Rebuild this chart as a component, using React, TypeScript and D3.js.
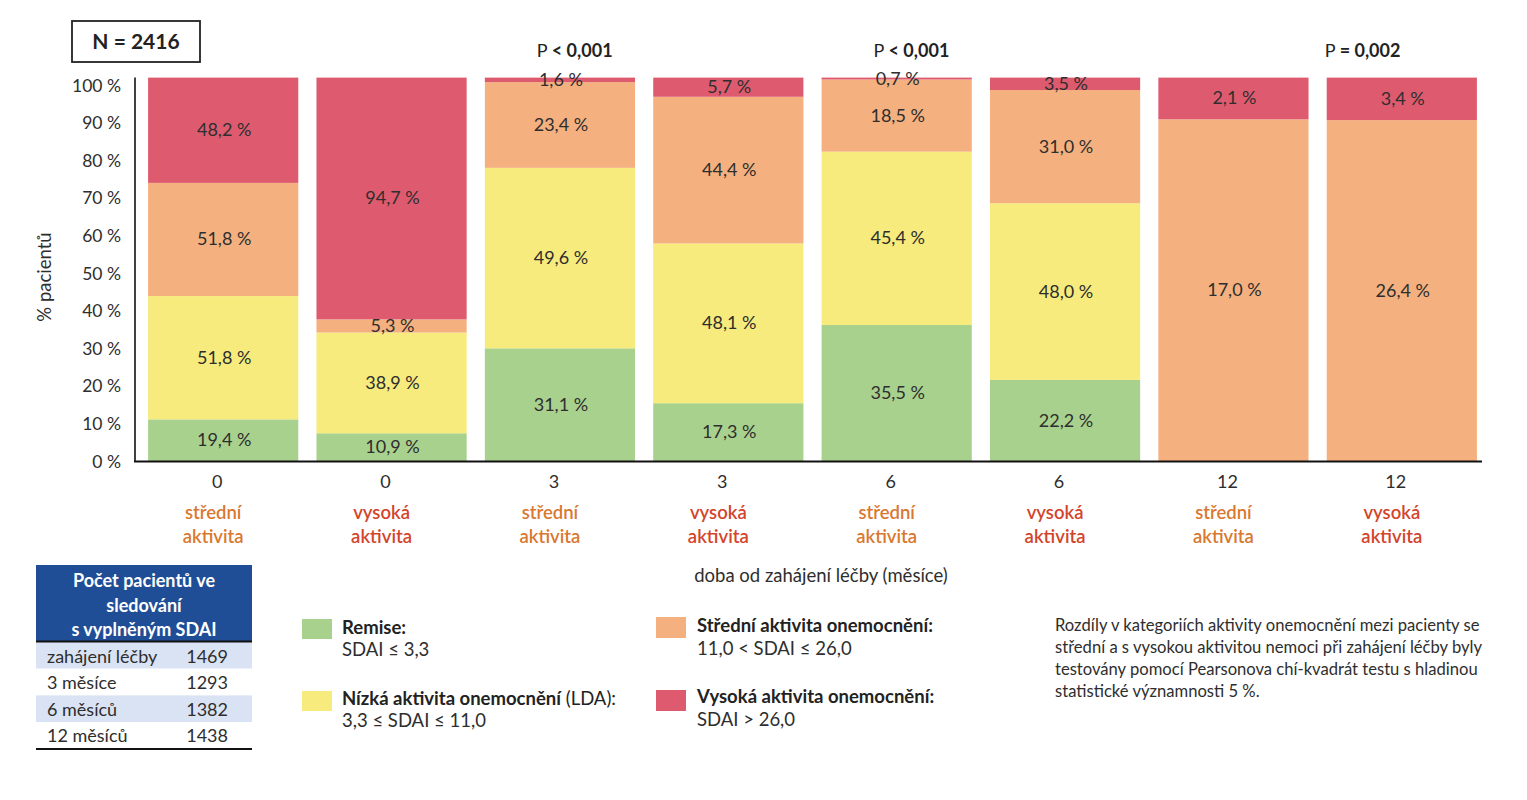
import React from "react";
import * as d3 from "d3";

// ---------- DATA ----------
const months = ["0", "0", "3", "3", "6", "6", "12", "12"];
const groups = ["střední", "vysoká", "střední", "vysoká", "střední", "vysoká", "střední", "vysoká"];
const seriesKeys = ["remise", "nizka", "stredni", "vysoka"];
const seriesNames = ["Remise", "Nízká aktivita onemocnění", "Střední aktivita onemocnění", "Vysoká aktivita onemocnění"];
// segment heights as drawn against the y axis (% pacientů)
const remise = [11.2, 7.5, 30.1, 15.5, 36.3, 21.7, 0, 0];
const nizka = [32.8, 26.8, 48.0, 42.5, 46.1, 47.0, 0, 0];
const stredni = [30.1, 3.5, 22.8, 39.0, 19.2, 30.1, 91.0, 90.8];
const vysoka = [28.0, 64.3, 1.2, 5.1, 0.5, 3.3, 11.1, 11.3];
// printed labels
const remiseLbl = ["19,4 %", "10,9 %", "31,1 %", "17,3 %", "35,5 %", "22,2 %", "", ""];
const nizkaLbl = ["51,8 %", "38,9 %", "49,6 %", "48,1 %", "45,4 %", "48,0 %", "", ""];
const stredniLbl = ["51,8 %", "5,3 %", "23,4 %", "44,4 %", "18,5 %", "31,0 %", "17,0 %", "26,4 %"];
const vysokaLbl = ["48,2 %", "94,7 %", "1,6 %", "5,7 %", "0,7 %", "3,5 %", "2,1 %", "3,4 %"];
const yTicks = [0, 10, 20, 30, 40, 50, 60, 70, 80, 90, 100];
const pSign = ["<", "<", "="];
const pValue = ["0,001", "0,001", "0,002"];
const pBar = [2, 4, 7];
const tableHeader = ["Počet pacientů ve", "sledování", "s vyplněným SDAI"];
const tableRows = ["zahájení léčby", "3 měsíce", "6 měsíců", "12 měsíců"];
const tableCounts = [1469, 1293, 1382, 1438];
const noteLines = [
  "Rozdíly v kategoriích aktivity onemocnění mezi pacienty se",
  "střední a s vysokou aktivitou nemoci při zahájení léčby byly",
  "testovány pomocí Pearsonova chí-kvadrát testu s hladinou",
  "statistické významnosti 5 %.",
];

const COLORS = ["#A9D18E", "#F6EB7C", "#F4B17F", "#DE5B6F"];
const GROUP_COL: Record<string, string> = { "střední": "#D9782F", "vysoká": "#D3442B" };
const FONT = "Lato, 'Open Sans', sans-serif";

export default function App() {
  const rows = months.map((m, i) => ({
    i,
    remise: remise[i],
    nizka: nizka[i],
    stredni: stredni[i],
    vysoka: vysoka[i],
  }));
  const labels = [remiseLbl, nizkaLbl, stredniLbl, vysokaLbl];
  const stacked = d3.stack<any>().keys(seriesKeys)(rows);
  const maxTotal = d3.max(rows, (r) => r.remise + r.nizka + r.stredni + r.vysoka) as number;

  const x = d3
    .scaleBand<number>()
    .domain(d3.range(months.length))
    .range([139, 1486])
    .paddingInner(0.108)
    .paddingOuter(0.054);
  const y = d3.scaleLinear().domain([0, 100]).range([461.5, 85.5]);
  const bw = x.bandwidth();
  const cx = (i: number) => (x(i) as number) + bw / 2;

  const txt = "#2e2e2e";

  return (
    <svg
      width={1527}
      height={800}
      style={{ position: "absolute", left: 0, top: 0, display: "block", background: "#fff" }}
      fontFamily={FONT}
    >
      {/* N box */}
      <rect x={72} y={21} width={128} height={41} fill="none" stroke="#222" strokeWidth={1.8} />
      <text x={136} y={49} textAnchor="middle" fontSize={21} fontWeight={700} fill="#222">
        N = 2416
      </text>

      {/* bars */}
      {stacked.map((s, si) => (
        <g key={si}>
          {s.map((d, i) =>
            d[1] - d[0] > 0 ? (
              <rect
                key={i}
                x={x(i)}
                y={y(d[1])}
                width={bw}
                height={y(d[0]) - y(d[1])}
                fill={COLORS[si]}
              />
            ) : null
          )}
        </g>
      ))}
      {/* bar labels */}
      {stacked.map((s, si) => (
        <g key={"l" + si}>
          {s.map((d, i) =>
            labels[si][i] ? (
              <text
                key={i}
                x={cx(i) + 1}
                y={(y(d[0]) + y(d[1])) / 2 + 6}
                textAnchor="middle"
                fontSize={18}
                fill={txt}
              >
                {labels[si][i]}
              </text>
            ) : null
          )}
        </g>
      ))}

      {/* axes */}
      <line x1={135} x2={135} y1={y(maxTotal)} y2={462} stroke="#111" strokeWidth={1.6} />
      <line x1={134} x2={1482} y1={461.5} y2={461.5} stroke="#111" strokeWidth={2} />
      {yTicks.map((t) => (
        <text key={t} x={121} y={y(t) + 6} textAnchor="end" fontSize={17.5} fill={txt}>
          {t} %
        </text>
      ))}
      <text
        transform={`translate(51,277) rotate(-90)`}
        textAnchor="middle"
        fontSize={18.5}
        fill={txt}
      >
        % pacientů
      </text>

      {/* x tick labels */}
      {months.map((m, i) => (
        <g key={"x" + i}>
          <text x={cx(i) - 6} y={488} textAnchor="middle" fontSize={18} fill={txt}>
            {m}
          </text>
          <text x={cx(i) - 10} y={519} textAnchor="middle" fontSize={18.5} fontWeight={600} fill={GROUP_COL[groups[i]]}>
            {groups[i]}
          </text>
          <text x={cx(i) - 10} y={543} textAnchor="middle" fontSize={18.5} fontWeight={600} fill={GROUP_COL[groups[i]]}>
            aktivita
          </text>
        </g>
      ))}
      <text x={821} y={582} textAnchor="middle" fontSize={18.5} fill={txt}>
        doba od zahájení léčby (měsíce)
      </text>

      {/* p-values */}
      {pBar.map((b, k) => (
        <text
          key={"p" + k}
          x={k < 2 ? (x(b) as number) + 52 : (x(b) as number) - 2}
          y={56.5}
          fontSize={18}
          fill="#222"
        >
          P <tspan fontWeight={700}>{pSign[k]} {pValue[k]}</tspan>
        </text>
      ))}

      {/* table */}
      <rect x={36} y={565} width={216} height={76} fill="#1F4E96" />
      {tableHeader.map((t, k) => (
        <text key={t} x={144} y={587 + k * 24.5} textAnchor="middle" fontSize={18} fontWeight={700} fill="#fff">
          {t}
        </text>
      ))}
      {tableRows.map((r, k) => (
        <g key={r}>
          <rect x={36} y={642 + k * 26.7} width={216} height={26.7} fill={k % 2 === 0 ? "#DAE3F3" : "#fff"} />
          <text x={47} y={662.5 + k * 26.5} fontSize={18} fill={txt}>
            {r}
          </text>
          <text x={228} y={662.5 + k * 26.5} textAnchor="end" fontSize={18} fill={txt}>
            {tableCounts[k]}
          </text>
        </g>
      ))}
      <line x1={36} x2={252} y1={641.5} y2={641.5} stroke="#111" strokeWidth={2} />
      <line x1={36} x2={252} y1={749} y2={749} stroke="#111" strokeWidth={2} />

      {/* legend */}
      <g fontSize={18.5} fill={txt}>
        <rect x={302} y={619} width={30} height={20} fill={COLORS[0]} />
        <text x={342} y={634} fontWeight={700} fill="#222">{seriesNames[0]}:</text>
        <text x={342} y={656}>SDAI ≤ 3,3</text>

        <rect x={302} y={691} width={30} height={20} fill={COLORS[1]} />
        <text x={342} y={705} fill="#222">
          <tspan fontWeight={700}>{seriesNames[1]}</tspan> (LDA):
        </text>
        <text x={342} y={727}>3,3 ≤ SDAI ≤ 11,0</text>

        <rect x={656} y={617} width={30} height={21} fill={COLORS[2]} />
        <text x={697} y={632} fontWeight={700} fill="#222">{seriesNames[2]}:</text>
        <text x={697} y={655}>11,0 &lt; SDAI ≤ 26,0</text>

        <rect x={656} y={690} width={30} height={21} fill={COLORS[3]} />
        <text x={697} y={703} fontWeight={700} fill="#222">{seriesNames[3]}:</text>
        <text x={697} y={726}>SDAI &gt; 26,0</text>
      </g>

      {/* note */}
      {noteLines.map((l, k) => (
        <text key={k} x={1055} y={631 + k * 22} fontSize={16.6} fill={txt}>
          {l}
        </text>
      ))}
    </svg>
  );
}
